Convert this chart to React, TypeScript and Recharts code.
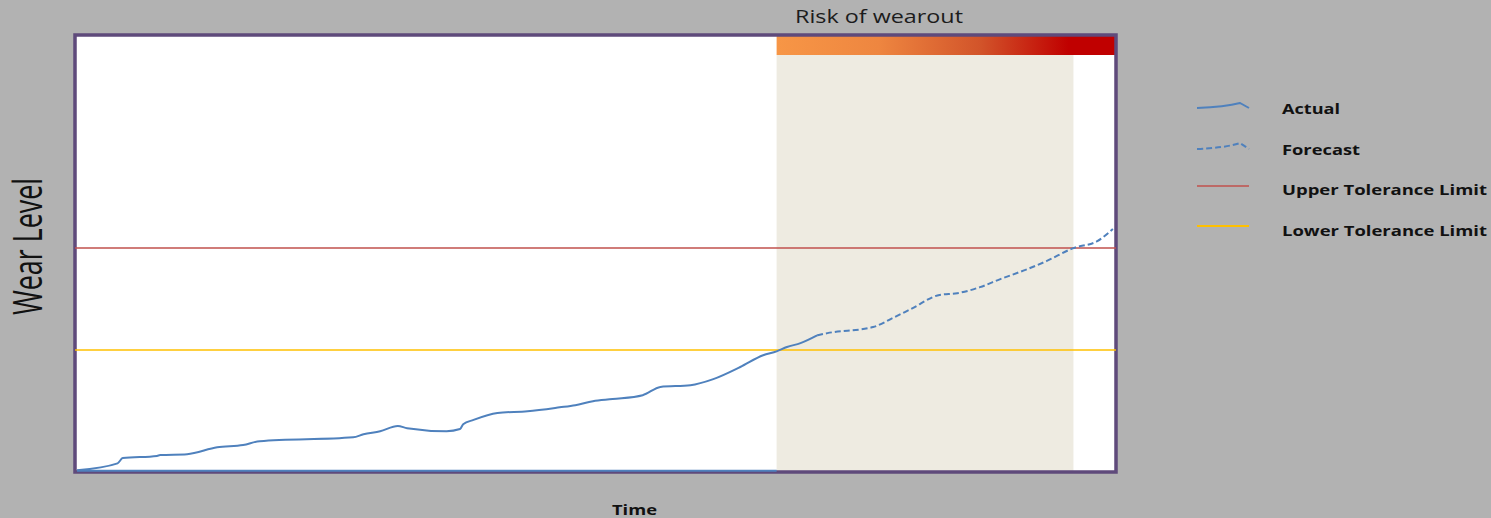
import React from "react";
import {
  ComposedChart,
  Line,
  XAxis,
  YAxis,
  ReferenceArea,
  ReferenceLine,
  Legend,
} from "recharts";

// values (time 0-100, wear 0-100)
const actualTime = [0, 3.9, 4.4, 7.7, 8.0, 10.6, 13.5, 16.0, 17.6, 26.6, 27.6, 29.2, 30.9, 31.8, 35.6, 36.9, 37.2, 38.2, 40.5, 43.4, 46.5, 48.0, 49.7, 51.6, 54.5, 56.2, 59.1, 61.3, 63.9, 66.1, 67.4, 68.4, 69.7, 71.3];
const actualWear = [0.2, 1.8, 3.0, 3.5, 3.7, 3.9, 5.5, 6.0, 6.9, 7.8, 8.5, 9.2, 10.4, 9.9, 9.2, 9.7, 10.8, 11.8, 13.4, 13.8, 14.7, 15.2, 16.1, 16.6, 17.5, 19.4, 19.8, 21.2, 24.0, 26.7, 27.6, 28.6, 29.5, 31.3];

const forecastTime = [71.3, 72.3, 76.7, 78.6, 80.3, 83.1, 84.8, 87.0, 88.9, 91.5, 93.4, 96.0, 98.3, 99.8];
const forecastWear = [31.3, 31.8, 33.2, 35.3, 37.3, 40.6, 41.0, 42.4, 44.2, 46.5, 48.4, 51.4, 53.0, 55.8];

const upperLimit = 51.4;
const lowerLimit = 27.9;
const riskStart = 67.4;
const riskEnd = 96.0;
const riskBarBottom = 95.9;

const legendLabels = ["Actual", "Forecast", "Upper Tolerance Limit", "Lower Tolerance Limit"];

const actualRows = actualTime.map((t, i) => ({ t, wear: actualWear[i] }));
const forecastRows = forecastTime.map((t, i) => ({ t, wear: forecastWear[i] }));

const X_DOMAIN: [number, number] = [-0.2, 100.1];
const Y_DOMAIN: [number, number] = [-0.2, 100.5];

const BLUE = "#4f81bd";
const font = "'Open Sans', 'Liberation Sans', sans-serif";

const renderLegend = () => {
  const widths = [58, 78, 205, 205];
  const baselines = [26, 67, 107, 148];
  return (
    <svg width={300} height={160} style={{ display: "block" }}>
      <path d="M7 20 Q 35 19 50 15 L 59 20" stroke={BLUE} strokeWidth={2} fill="none" />
      <path d="M7 61 Q 35 60 50 55 L 59 61" stroke={BLUE} strokeWidth={2} strokeDasharray="6 3" fill="none" />
      <line x1={7} x2={59} y1={98} y2={98} stroke="#c0504d" strokeWidth={1.5} />
      <line x1={7} x2={59} y1={138} y2={138} stroke="#ffc000" strokeWidth={2} />
      {legendLabels.map((label, i) => (
        <text
          key={label}
          x={92}
          y={baselines[i]}
          fontFamily={font}
          fontWeight={700}
          fontSize={15}
          fill="#111"
          textLength={widths[i]}
          lengthAdjust="spacingAndGlyphs"
        >
          {label}
        </text>
      ))}
    </svg>
  );
};

export default function App() {
  return (
    <div style={{ position: "absolute", left: 0, top: 0, width: 1491, height: 518, background: "#b2b2b2" }}>
      <ComposedChart
        width={1491}
        height={518}
        margin={{ top: 35, right: 375, bottom: 46, left: 75 }}
      >
        <defs>
          <linearGradient id="riskGrad" x1="0" y1="0" x2="1" y2="0">
            <stop offset="0%" stopColor="#f79646" />
            <stop offset="30%" stopColor="#ee8640" />
            <stop offset="60%" stopColor="#d2542a" />
            <stop offset="86%" stopColor="#c00000" />
            <stop offset="100%" stopColor="#c00000" />
          </linearGradient>
        </defs>
        <XAxis type="number" dataKey="t" domain={X_DOMAIN} hide allowDataOverflow />
        <YAxis type="number" dataKey="wear" domain={Y_DOMAIN} hide allowDataOverflow />
        <ReferenceArea x1={X_DOMAIN[0]} x2={X_DOMAIN[1]} y1={Y_DOMAIN[0]} y2={Y_DOMAIN[1]} fill="#ffffff" stroke="none" fillOpacity={1} />
        <ReferenceArea x1={riskStart} x2={riskEnd} y1={Y_DOMAIN[0]} y2={riskBarBottom} fill="#eeebe1" fillOpacity={1} stroke="none" />
        <ReferenceArea x1={riskStart} x2={X_DOMAIN[1]} y1={riskBarBottom} y2={Y_DOMAIN[1]} fill="url(#riskGrad)" fillOpacity={1} stroke="none" />
        <ReferenceLine y={upperLimit} stroke="#c0504d" strokeWidth={1.5} segment={[{ x: 0, y: upperLimit }, { x: 99.8, y: upperLimit }]} />
        <ReferenceLine y={lowerLimit} stroke="#ffc000" strokeWidth={1.5} segment={[{ x: 0, y: lowerLimit }, { x: 99.8, y: lowerLimit }]} />
        <ReferenceLine stroke={BLUE} strokeWidth={2} segment={[{ x: 0, y: 0.1 }, { x: riskStart, y: 0.1 }]} />
        <Line data={actualRows} dataKey="wear" type="monotone" stroke={BLUE} strokeWidth={2} dot={false} isAnimationActive={false} />
        <Line data={forecastRows} dataKey="wear" type="monotone" stroke={BLUE} strokeWidth={2} strokeDasharray="6 3" dot={false} isAnimationActive={false} />
        <ReferenceArea x1={X_DOMAIN[0]} x2={X_DOMAIN[1]} y1={Y_DOMAIN[0]} y2={Y_DOMAIN[1]} fill="none" stroke="#5f4a7b" strokeWidth={3.5} ifOverflow="visible" />
        <Legend
          content={renderLegend}
          layout="horizontal"
          verticalAlign="middle"
          align="center"
          wrapperStyle={{ position: "absolute", left: 1190, top: 88, width: 300, height: 160 }}
        />
      </ComposedChart>
      <svg width={1491} height={518} style={{ position: "absolute", left: 0, top: 0, pointerEvents: "none" }}>
        <text x={795} y={23} fontFamily={font} fontSize={18} fill="#1c1c1c" textLength={168} lengthAdjust="spacingAndGlyphs">
          Risk of wearout
        </text>
        <text x={612} y={515} fontFamily={font} fontSize={15} fontWeight={700} fill="#111" textLength={45} lengthAdjust="spacingAndGlyphs">
          Time
        </text>
        <text
          transform="translate(42,315) rotate(-90)"
          fontFamily="'Liberation Sans Narrow', 'Open Sans', sans-serif"
          fontSize={40}
          fill="#111"
          textLength={137}
          lengthAdjust="spacingAndGlyphs"
        >
          Wear Level
        </text>
      </svg>
    </div>
  );
}
